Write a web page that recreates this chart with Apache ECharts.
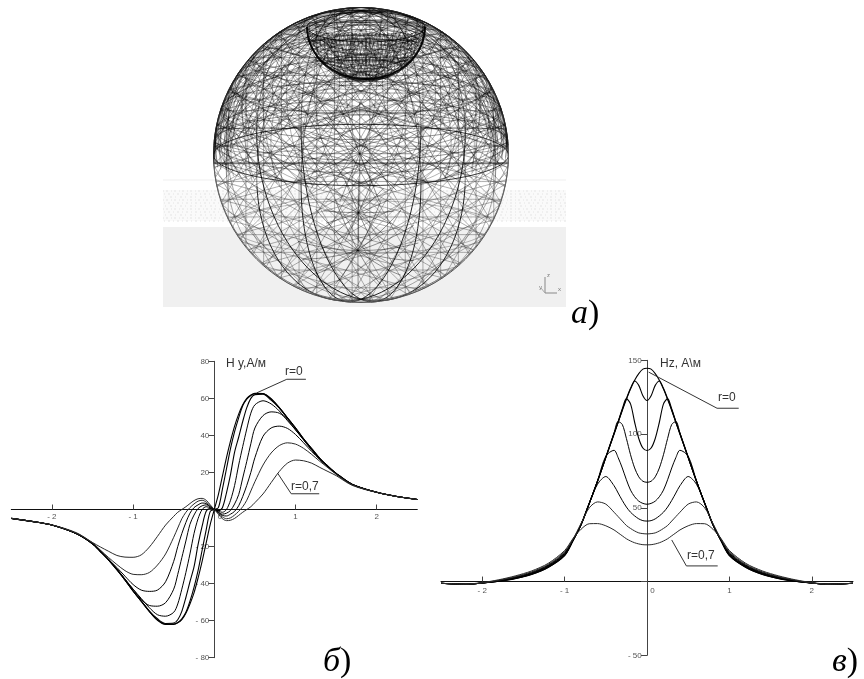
<!DOCTYPE html>
<html>
<head>
<meta charset="utf-8">
<style>html,body{margin:0;padding:0;background:#fff}#main{width:864px;height:679px}</style>
<script src="https://cdn.jsdelivr.net/npm/echarts@6/dist/echarts.min.js"></script>
</head>
<body>
<div id="main"></div>
<script>
// Hy chart
const hyX = [-2.5,-2.25,-2,-1.7,-1.5,-1.4,-1.3,-1.2,-1.1,-1,-.9,-.8,-.7,-.6,-.5,-.45,-.4,-.35,-.3,-.25,-.2,-.15,-.1,-.05,0,.05,.1,.15,.2,.25,.3,.35,.4,.45,.5,.6,.7,.8,.9,1,1.1,1.2,1.3,1.4,1.5,1.7,2,2.25,2.5];
const hyR0 = [-4.8,-6.4,-8.4,-13,-18.5,-22.8,-27.3,-32.5,-38,-44,-49.5,-55,-59.8,-62,-62,-61.2,-59.5,-56,-51,-45,-37,-28,-18,-8,0,8,18,28,37,45,51.5,56.5,60,61.8,62.7,62.6,59.8,55,49.5,44,38,32.8,27.5,23.3,19.5,13.5,9.3,7,5.4];
const hyR1 = [-4.8,-6.4,-8.4,-13,-18.5,-22.8,-27.3,-32.5,-38,-44,-49.5,-55,-59.6,-61.8,-61.8,-61,-59,-55.5,-49.5,-42,-33,-22,-11,-1,0,1,11,22,33,42,49.5,56,59.5,61.5,62.6,62.5,59.6,55,49.5,44,38,32.8,27.5,23.3,19.5,13.5,9.3,7,5.4];
const hyR2 = [-4.8,-6.4,-8.4,-13,-18.5,-22.8,-27.3,-32.4,-38,-44,-49.4,-54.8,-59,-61.5,-61.3,-59.5,-55,-47.5,-39,-31,-19,-9,-1,.5,0,-.5,1,9,19,31,39,47.5,55,60,62,62.3,59,54.8,49.4,44,38,32.7,27.5,23.3,19.5,13.5,9.3,7,5.4];
const hyR3 = [-4.8,-6.4,-8.4,-13,-18.5,-22.7,-27.2,-32.3,-37.8,-43,-48,-53,-56.8,-57.6,-55.5,-51,-43,-34,-24,-13,-5,0,1.5,1,0,-1,-1.5,0,5,13,24,34,43.5,52,56.5,58.7,57,53.2,48,43,37.8,32.5,27.3,23.2,19.5,13.5,9.3,7,5.4];
const hyR4 = [-4.8,-6.4,-8.4,-13,-18.4,-22.5,-27,-32,-37.5,-43,-48.5,-51.8,-52.2,-50.3,-43,-35,-26,-17,-8,-3,.5,2,2.5,1.5,0,-1.5,-2.5,-2,-.5,3,8,17,26,35.5,44,50.7,52.7,52,48.5,43,37.5,32,27,23,19.4,13.5,9.3,7,5.4];
const hyR5 = [-4.8,-6.4,-8.4,-13,-18.3,-22.5,-27,-31.3,-36,-40.5,-43.5,-44.2,-43.5,-39,-28,-20,-13,-7,-2,1,2.5,3.5,3.2,1.5,0,-1.5,-3.2,-3.5,-2.5,-1,2,7,13,20,28,39.5,44,45,43.8,40.5,36,31.3,27,23,19.3,13.4,9.3,7,5.4];
const hyR6 = [-4.8,-6.4,-8.4,-12.8,-18,-22,-26,-29.7,-33,-35,-35.2,-34,-30,-24,-15,-10,-5,-1.5,1,3,4.5,5,4,2,0,-2,-4,-5,-4.5,-3,-1,1.5,5,10,15,24,30.5,34.5,36,35.3,33,29.7,26,22.5,19,13.3,9.3,7,5.4];
const hyR7 = [-4.8,-6.4,-8.3,-12.5,-17.8,-20.3,-22.6,-24.8,-25.7,-25.8,-24.5,-20.3,-14.5,-8.4,-3.7,-1.5,0,1.5,3.2,4.8,5.8,6,5,2.5,0,-2.5,-5,-6,-5.8,-4.8,-3.2,-1.5,0,1.5,3.7,8.4,14.5,20.5,25,26.7,26.3,25,22.7,20.5,18.3,13,9.2,7,5.4];
const hyCurves = [hyR0, hyR1, hyR2, hyR3, hyR4, hyR5, hyR6, hyR7];
const hyLeaderR0 = [[.52,62.9],[.893,70.3],[1.128,70.3]];
const hyLeaderR7 = [[.78,19.6],[.947,8.5],[1.292,8.5]];

// Hz chart
const hzX = [-2.5,-2.2,-2,-1.8,-1.6,-1.4,-1.2,-1,-.9,-.8,-.7,-.6,-.5,-.4,-.35,-.3,-.25,-.2,-.15,-.1,-.05,0,.05,.1,.15,.2,.25,.3,.35,.4,.5,.6,.7,.8,.9,1,1.2,1.4,1.6,1.8,2,2.2,2.5];
const hzR0 = [-1.2,-1.8,-1,.2,2,4.8,9.5,17.5,27.5,38.5,53,68,84,100,108,116,123.5,130.5,136.5,141,144,144.6,144,141,136.5,130.5,123.5,116,108,100,84,68,53,38.5,27.5,17.5,9.5,4.8,2,.2,-1,-1.8,-1.2];
const hzR1 = [-1.2,-1.8,-1,.2,2.1,5,9.7,17.8,27.5,38.5,53,68,84,100,108,116.5,124,131,136,133,126,122.7,126,133,136,131,124,116.5,108,100,84,68,53,38.5,27.5,17.8,9.7,5,2.1,.2,-1,-1.8,-1.2];
const hzR2 = [-1.2,-1.8,-1,.3,2.2,5.2,10,18,27.6,38.5,53,68,84.2,100.5,108.5,117,124,120.5,108,97,90.5,88.8,90.5,97,108,120.5,124,117,108.5,100.5,84.2,68,53,38.5,27.6,18,10,5.2,2.2,.3,-1,-1.8,-1.2];
const hzR3 = [-1.2,-1.8,-1,.4,2.4,5.5,10.3,18.5,27.8,38.6,53,68.2,84.5,100.8,108.5,106.5,97,86,77,71,68,67.3,68,71,77,86,97,106.5,108.5,100.8,84.5,68.2,53,38.6,27.8,18.5,10.3,5.5,2.4,.4,-1,-1.8,-1.2];
const hzR4 = [-1.2,-1.8,-1,.5,2.7,5.8,10.7,19,28,38.8,53.2,68.5,85,89,84,77,69,62,57.5,54.5,53,52.4,53,54.5,57.5,62,69,77,84,89,85,68.5,53.2,38.8,28,19,10.7,5.8,2.7,.5,-1,-1.8,-1.2];
const hzR5 = [-1.2,-1.8,-1,.7,3,6.2,11.1,19.5,28.2,39,53.5,66,71.2,65,60,55,50.5,47,44.5,42.5,41.3,41,41.3,42.5,44.5,47,50.5,55,60,65,71.2,66,53.5,39,28.2,19.5,11.1,6.2,3,.7,-1,-1.8,-1.2];
const hzR6 = [-1.2,-1.8,-1,.9,3.3,6.6,11.6,20.2,28.6,39.5,50,54,52.5,47,44,41,38,36,34.3,33,32.5,32.3,32.5,33,34.3,36,38,41,44,47,52.5,54,50,39.5,28.6,20.2,11.6,6.6,3.3,.9,-1,-1.8,-1.2];
const hzR7 = [-1.2,-1.7,-.7,1.2,3.8,7.2,12.3,21,29,35.5,39.2,39.3,37.8,35,33,31,29,27.5,26.3,25.5,25,24.9,25,25.5,26.3,27.5,29,31,33,35,37.8,39.3,39.2,35.5,29,21,12.3,7.2,3.8,1.2,-.7,-1.7,-1.2];
const hzCurves = [hzR0, hzR1, hzR2, hzR3, hzR4, hzR5, hzR6, hzR7];
const hzLeaderR0 = [[.02,142],[.85,117.5],[1.113,117.5]];
const hzLeaderR7 = [[.3,28.2],[.478,10.6],[.858,10.6]];

const xTicks = [-2, -1, 0, 1, 2];

// wireframe sphere parameters
const sphereCenter = [361, 155];
const sphereRadius = 147.5;
const northAxis = [0, .978, .208];
const latRings = [-30, 5, 10, 18, 28, 40, 52, 66];
const meridianLons = [24, -24, 45, -45, 66, -66];
const straightAxes = [[1,0,0],[0,1,0],[.7,.7,0],[.7,-.7,0],[.26,.96,0],[-.26,.96,0],[.87,.5,0],[.87,-.5,0],[.5,.87,0],[-.5,.87,0]];
const straightOffsets = [-.9,-.78,-.66,-.54,-.42,-.3,-.18,-.06,.06,.18,.3,.42,.54,.66,.78,.9];
const curvedAxes = [[.38,.1,.92],[-.38,.1,.92],[.8,.3,.5],[-.8,.3,.5],[0,.5,.87],[.2,.95,.2],[-.2,.95,.2],[.6,.75,.25],[-.6,.75,.25],[.15,.55,.82],[-.15,.55,.82]];
const curvedOffsets = [-.7,-.5,-.3,-.1,.1,.3,.5,.7];
const hubPoints = [[358,249],[360,154],[359,202]];
const hubAngles = [0,22.5,45,67.5,90,112.5,135,157.5];
const hubReach = [.42,.36,.24];
const bowlCenter = [366, 27];
const bowlSize = [59, 15, 52];
const bowlLevels = [.08,.16,.24,.32,.4,.48,.56,.64,.72,.8,.88,.95];
const bowlMeridians = [0,15,30,45,60,75,90,105,120,135,150,165,180,195,210,225,240,255,270,285,300,315,330,345];
const bowlHatch = [-54,-50,-46,-42,-38,-34,-30,-26,-22,-18,-14,-10,-6,-2,2,6,10,14,18,22,26,30,34,38,42,46,50,54];
const bandRows = [191,194,197,200,203,206,209,212,215,218,221];

const dot = (a, b) => a[0]*b[0] + a[1]*b[1] + a[2]*b[2];
const cross = (a, b) => [a[1]*b[2]-a[2]*b[1], a[2]*b[0]-a[0]*b[2], a[0]*b[1]-a[1]*b[0]];
const unit = (a) => { const l = Math.sqrt(dot(a, a)); return a.map(v => v / l); };

function frame(axis) {
  const a = unit(axis);
  const u = unit(cross(a, Math.abs(a[0]) > .9 ? [0,1,0] : [1,0,0]));
  return [a, u, cross(a, u)];
}

function ringPoints(axis, d) {
  const [a, u, w] = frame(axis);
  const s = Math.sqrt(1 - d*d);
  const pts = [];
  for (let i = 0; i <= 96; i++) {
    const t = i / 96 * 2 * Math.PI;
    pts.push([0,1,2].map(k => d*a[k] + s*(Math.cos(t)*u[k] + Math.sin(t)*w[k])));
  }
  return pts;
}

function toPixel(p) {
  return [sphereCenter[0] + sphereRadius*p[0], sphereCenter[1] - sphereRadius*p[1]];
}

// верхняя половина темнее нижней
function sphereWire(api, children, pts, upperStyle, lowerStyle) {
  let run = [];
  let state = null;
  const flush = () => {
    const st = state ? upperStyle : lowerStyle;
    if (run.length > 1 && st) {
      children.push({ type: 'polyline', shape: { points: run }, style: { fill: null, stroke: st[0], lineWidth: st[1] } });
    }
  };
  pts.forEach((p) => {
    const up = dot(p, northAxis) >= 0;
    const c = api.coord(toPixel(p));
    if (state !== null && up !== state) {
      run.push(c);
      flush();
      run = [c];
    } else {
      run.push(c);
    }
    state = up;
  });
  flush();
}

function pixelLine(api, children, pts, stroke, width, dash) {
  children.push({
    type: 'polyline',
    shape: { points: pts.map(p => api.coord(p)) },
    style: { fill: null, stroke, lineWidth: width, lineDash: dash || null },
  });
}

function renderBackdrop(params, api) {
  const children = [];
  const rect = (x, y, w, h, fill) => {
    const a = api.coord([x, y]);
    const b = api.coord([x + w, y + h]);
    children.push({ type: 'rect', shape: { x: a[0], y: a[1], width: b[0]-a[0], height: b[1]-a[1] }, style: { fill } });
  };
  rect(163, 227, 403, 80, '#f0f0f0');
  rect(163, 190, 403, 31, '#fafafa');
  pixelLine(api, children, [[163,180],[566,180]], '#efefef', 1);
  bandRows.forEach((y, i) => {
    pixelLine(api, children, [[163 + i % 3, y],[566, y]], '#e4e4e4', 1, [1, 2 + i % 3, 2, 3]);
  });
  // triad
  pixelLine(api, children, [[545,277],[545,293],[557,293]], '#888', 1);
  pixelLine(api, children, [[541,288],[545,293]], '#aaa', 1);
  return { type: 'group', children };
}

function renderSphere(params, api) {
  const children = [];
  const front = cross([1,0,0], northAxis);

  straightAxes.forEach((axis) => {
    straightOffsets.forEach((d) => {
      // seen edge-on, the front half of the ring is enough
      sphereWire(api, children, ringPoints(axis, d).slice(24, 73).concat([]), ['rgba(0,0,0,.62)', .6], ['rgba(70,70,70,.55)', .8]);
    });
  });
  curvedAxes.forEach((axis) => {
    curvedOffsets.forEach((d) => {
      sphereWire(api, children, ringPoints(axis, d), ['rgba(0,0,0,.55)', .55], null);
    });
  });
  hubPoints.forEach((h, i) => {
    const hub = unit([(h[0]-sphereCenter[0])/sphereRadius, (sphereCenter[1]-h[1])/sphereRadius, .75]);
    const [, u, w] = frame(hub);
    hubAngles.forEach((deg) => {
      const phi = deg * Math.PI / 180;
      const pts = [];
      for (let k = -8; k <= 8; k++) {
        const t = k / 8 * hubReach[i];
        pts.push([0,1,2].map(j => Math.cos(t)*hub[j] + Math.sin(t)*(Math.cos(phi)*u[j] + Math.sin(phi)*w[j])));
      }
      pixelLine(api, children, pts.map(toPixel), 'rgba(0,0,0,.6)', .7);
    });
  });
  latRings.forEach((lat) => {
    const d = Math.sin(lat * Math.PI / 180);
    sphereWire(api, children, ringPoints(northAxis, d), ['rgba(0,0,0,.6)', .7], ['rgba(40,40,40,.45)', .7]);
  });
  meridianLons.forEach((lon) => {
    const r = lon * Math.PI / 180;
    const n = [0,1,2].map(k => Math.cos(r)*[1,0,0][k] + Math.sin(r)*front[k]);
    const dark = Math.abs(lon) === 24 || Math.abs(lon) === 45;
    sphereWire(api, children, ringPoints(n, 0), ['rgba(0,0,0,.6)', .8], [dark ? 'rgba(0,0,0,.85)' : 'rgba(40,40,40,.5)', dark ? 1 : .8]);
  });
  // экватор и контур
  sphereWire(api, children, ringPoints(northAxis, 0), ['rgba(0,0,0,.85)', .9], ['rgba(0,0,0,.85)', .9]);
  pixelLine(api, children, [[214,163],[509,163]], 'rgba(0,0,0,.75)', .9);
  sphereWire(api, children, ringPoints([0,0,1], 0), ['#222', 1], ['#555', 1]);
  sphereWire(api, children, ringPoints([0,.1,1], .04), null, ['#666', .9]);

  // чаша сверху
  const [bx, by] = bowlCenter;
  const [rx, ry, depth] = bowlSize;
  bowlLevels.forEach((t) => {
    const k = Math.sqrt(1 - t*t);
    const pts = [];
    for (let i = 0; i <= 48; i++) {
      const a = i / 48 * 2 * Math.PI;
      pts.push([bx + rx*k*Math.cos(a), by + depth*t + ry*k*Math.sin(a)]);
    }
    pixelLine(api, children, pts, 'rgba(0,0,0,.7)', .6);
  });
  bowlMeridians.forEach((deg) => {
    const phi = deg * Math.PI / 180;
    const pts = [];
    for (let i = 0; i <= 16; i++) {
      const a = i / 16 * Math.PI / 2;
      pts.push([bx + rx*Math.cos(phi)*Math.cos(a), by + ry*Math.sin(phi)*Math.cos(a) + depth*Math.sin(a)]);
    }
    pixelLine(api, children, pts, 'rgba(0,0,0,.7)', .6);
  });
  bowlHatch.forEach((dx) => {
    const top = by + ry*.4;
    const h = depth * Math.sqrt(Math.max(0, 1 - dx*dx/(rx*rx)));
    pixelLine(api, children, [[bx + dx, top],[bx + dx*.8 + 8, by + h*.95]], 'rgba(0,0,0,.6)', .6);
    pixelLine(api, children, [[bx + dx, top],[bx + dx*.8 - 8, by + h*.95]], 'rgba(0,0,0,.6)', .6);
  });
  const rim = [];
  for (let i = 0; i <= 48; i++) {
    const a = i / 48 * 2 * Math.PI;
    rim.push([bx + rx*Math.cos(a), by + ry*Math.sin(a)]);
  }
  pixelLine(api, children, rim, 'rgba(0,0,0,.8)', 1);
  const cup = [];
  for (let i = 0; i <= 32; i++) {
    const a = i / 32 * Math.PI;
    cup.push([bx + rx*Math.cos(a), by + depth*Math.sin(a)]);
  }
  pixelLine(api, children, cup, 'rgba(0,0,0,.9)', 2);
  return { type: 'group', children };
}

function tickLabel(v) {
  if (v === 0) return '';
  return v < 0 ? '- ' + Math.abs(v) : String(v);
}
function xLabel(v) {
  if (v === 0) return '     0';
  return v < 0 ? '- ' + Math.abs(v) : String(v);
}

function curveSeries(xs, curves, idx) {
  return curves.map((ys, i) => ({
    name: 'r=0,' + i,
    type: 'line',
    xAxisIndex: idx,
    yAxisIndex: idx,
    data: xs.map((x, k) => [x, ys[k]]),
    showSymbol: false,
    smooth: .3,
    z: 5,
    lineStyle: { color: i > 5 ? '#2a2a2a' : '#000', width: i < 3 ? 1.1 : 1 },
  }));
}
function leaderSeries(points, idx) {
  return {
    type: 'line', xAxisIndex: idx, yAxisIndex: idx, data: points,
    showSymbol: false, z: 6, lineStyle: { color: '#333', width: 1 },
  };
}
function xAxisOf(idx, labelMargin) {
  return {
    gridIndex: idx, type: 'value', min: -2.5, max: 2.5,
    splitLine: { show: false },
    axisLine: { onZero: true, lineStyle: { color: '#111', width: 1 } },
    axisTick: { inside: true, length: 5, customValues: xTicks, lineStyle: { color: '#444' } },
    axisLabel: { customValues: xTicks, formatter: xLabel, fontSize: 8, color: '#555', margin: labelMargin, fontFamily: 'Liberation Sans' },
  };
}
function yAxisOf(idx, min, max, interval, labelMargin) {
  return {
    gridIndex: idx, type: 'value', min, max, interval,
    splitLine: { show: false },
    axisLine: { onZero: true, lineStyle: { color: '#444', width: 1 } },
    axisTick: { length: 6, lineStyle: { color: '#444' } },
    axisLabel: { formatter: tickLabel, fontSize: 8, color: '#555', margin: labelMargin, fontFamily: 'Liberation Sans' },
    z: 2,
  };
}
function caption(x, y, text) {
  return {
    type: 'text', x, y, z: 20,
    style: { text, fontFamily: 'Liberation Sans', fontSize: 12, fill: '#333', verticalAlign: 'middle' },
  };
}
function partLabel(x, y, letter) {
  return {
    type: 'text', x, y, z: 20,
    style: {
      text: '{i|' + letter + '}{n|)}',
      verticalAlign: 'middle',
      rich: {
        i: { fontFamily: 'Liberation Serif', fontStyle: 'italic', fontSize: 34, fill: '#000' },
        n: { fontFamily: 'Liberation Serif', fontSize: 34, fill: '#000' },
      },
    },
  };
}
function tiny(x, y, text) {
  return { type: 'text', x, y, z: 20, style: { text, fontFamily: 'Liberation Sans', fontSize: 6, fill: '#777', verticalAlign: 'middle' } };
}

const chart = echarts.init(document.getElementById('main'), null, { renderer: 'canvas' });
chart.setOption({
  animation: false,
  backgroundColor: '#fff',
  grid: [
    { left: 11.3, top: 361.3, width: 406, height: 296.4, outerBoundsMode: 'none' },
    { left: 441, top: 360.3, width: 412, height: 295, outerBoundsMode: 'none' },
    { left: 0, top: 0, width: 864, height: 679, outerBoundsMode: 'none' },
  ],
  xAxis: [
    xAxisOf(0, -144.7),
    xAxisOf(1, -68.6),
    { gridIndex: 2, type: 'value', min: 0, max: 864, show: false },
  ],
  yAxis: [
    yAxisOf(0, -80, 80, 20, -198),
    yAxisOf(1, -50, 150, 50, -200.7),
    { gridIndex: 2, type: 'value', min: 0, max: 679, inverse: true, show: false },
  ],
  series: [
    { type: 'custom', xAxisIndex: 2, yAxisIndex: 2, data: [[0, 0]], renderItem: renderBackdrop, silent: true, clip: false, z: 0 },
    { type: 'custom', xAxisIndex: 2, yAxisIndex: 2, data: [[0, 0]], renderItem: renderSphere, silent: true, clip: false, z: 1 },
    ...curveSeries(hyX, hyCurves, 0),
    ...curveSeries(hzX, hzCurves, 1),
    leaderSeries(hyLeaderR0, 0),
    leaderSeries(hyLeaderR7, 0),
    leaderSeries(hzLeaderR0, 1),
    leaderSeries(hzLeaderR7, 1),
  ],
  graphic: [
    caption(226, 364, 'H y,A/м'),
    caption(285, 372, 'r=0'),
    caption(291, 487, 'r=0,7'),
    caption(660, 364, 'Hz, A\\м'),
    caption(718, 398, 'r=0'),
    caption(687, 556, 'r=0,7'),
    partLabel(571, 314, 'а'),
    partLabel(323, 662, 'б'),
    partLabel(832, 662, 'в'),
    tiny(547, 275, 'z'),
    tiny(558, 289, 'x'),
    tiny(539, 287, 'y'),
  ],
});
</script>
</body>
</html>
